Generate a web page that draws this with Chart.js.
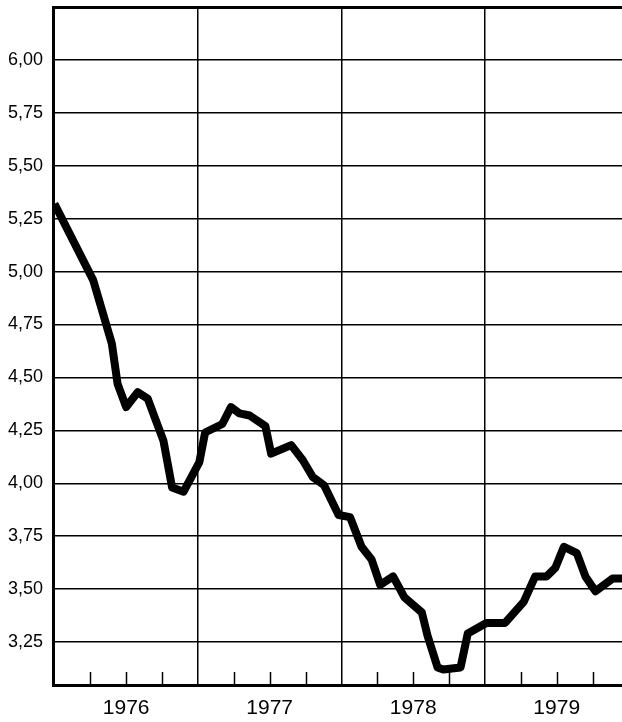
<!DOCTYPE html>
<html>
<head>
<meta charset="utf-8">
<script src="https://cdn.jsdelivr.net/npm/chart.js@4/dist/chart.umd.min.js"></script>
<style>
  body { margin: 0; background: #fff; }
  canvas { display: block; }
</style>
</head>
<body>
<canvas id="rate-chart" width="622" height="722"></canvas>
<script>
// decimal year of each vertex
const dates = [
  1976.00, 1976.27, 1976.40, 1976.44, 1976.50, 1976.58, 1976.65, 1976.76,
  1976.82, 1976.90, 1977.01, 1977.05, 1977.17, 1977.23, 1977.29, 1977.36,
  1977.47, 1977.51, 1977.65, 1977.73, 1977.80, 1977.88, 1977.98, 1978.06,
  1978.14, 1978.21, 1978.27, 1978.36, 1978.44, 1978.56, 1978.60, 1978.67,
  1978.71, 1978.83, 1978.88, 1979.01, 1979.14, 1979.27, 1979.35, 1979.43,
  1979.49, 1979.55, 1979.64, 1979.70, 1979.77, 1979.89, 1979.955
];
const rates = [
  5.32, 4.96, 4.66, 4.47, 4.36, 4.43, 4.40, 4.20,
  3.98, 3.96, 4.10, 4.24, 4.28, 4.36, 4.33, 4.32,
  4.27, 4.14, 4.18, 4.11, 4.03, 3.99, 3.85, 3.84,
  3.70, 3.64, 3.52, 3.56, 3.46, 3.39, 3.28, 3.13,
  3.12, 3.13, 3.29, 3.34, 3.34, 3.44, 3.56, 3.56,
  3.60, 3.70, 3.67, 3.56, 3.49, 3.55, 3.55
];

const yTickValues = [3.25, 3.5, 3.75, 4.0, 4.25, 4.5, 4.75, 5.0, 5.25, 5.5, 5.75, 6.0, 6.25];
const yearLines = [1977, 1978, 1979];
const yearLabels = ['1976', '1977', '1978', '1979'];
const quarterTicks = [
  1976.25, 1976.5, 1976.75, 1977.25, 1977.5, 1977.75,
  1978.25, 1978.5, 1978.75, 1979.25, 1979.5, 1979.75
];

const points = dates.map((d, i) => ({ x: d, y: rates[i] }));

// short tick marks standing up from the bottom axis
const quarterTickPlugin = {
  id: 'quarterTicks',
  beforeDatasetsDraw(chart) {
    const ctx = chart.ctx;
    const xScale = chart.scales.x;
    const bottom = chart.chartArea.bottom;
    ctx.save();
    ctx.strokeStyle = '#000';
    ctx.lineWidth = 1.5;
    quarterTicks.forEach(v => {
      const px = Math.round(xScale.getPixelForValue(v)) + 0.5;
      ctx.beginPath();
      ctx.moveTo(px, bottom);
      ctx.lineTo(px, bottom - 13);
      ctx.stroke();
    });
    ctx.restore();
  }
};

const ctx = document.getElementById('rate-chart').getContext('2d');

new Chart(ctx, {
  type: 'scatter',
  data: {
    datasets: [{
      data: points,
      showLine: true,
      borderColor: '#000',
      borderWidth: 8,
      borderJoinStyle: 'round',
      pointRadius: 0,
      tension: 0
    }]
  },
  options: {
    responsive: false,
    animation: false,
    devicePixelRatio: 1,
    layout: { padding: { top: 7, right: 0, left: 0, bottom: 0 } },
    plugins: {
      legend: { display: false },
      tooltip: { enabled: false }
    },
    scales: {
      x: {
        type: 'linear',
        min: 1975.99,
        max: 1979.955,
        afterBuildTicks: scale => {
          const ticks = [];
          yearLabels.forEach((y, i) => {
            ticks.push({ value: Number(y) + 0.5 });
            if (yearLines[i] !== undefined) ticks.push({ value: yearLines[i] });
          });
          scale.ticks = ticks.sort((a, b) => a.value - b.value);
        },
        afterFit: scale => {
          scale.height = 37;
          scale.paddingLeft = 0;
          scale.paddingRight = 0;
        },
        border: { display: true, color: '#000', width: 3 },
        grid: {
          drawTicks: false,
          lineWidth: 1.5,
          color: c => (c.tick && Number.isInteger(c.tick.value)) ? '#000' : 'rgba(0,0,0,0)'
        },
        ticks: {
          autoSkip: false,
          maxRotation: 0,
          padding: 11,
          color: '#000',
          font: { family: '"Liberation Sans", Arial, sans-serif', size: 21 },
          callback: v => Number.isInteger(v) ? '' : String(Math.floor(v))
        }
      },
      y: {
        min: 3.047,
        max: 6.25,
        afterBuildTicks: scale => {
          scale.ticks = yTickValues.map(v => ({ value: v }));
        },
        afterFit: scale => {
          scale.width = 53;
          scale.paddingTop = 0;
          scale.paddingBottom = 0;
        },
        border: { display: true, color: '#000', width: 3 },
        grid: {
          drawTicks: false,
          color: '#000',
          lineWidth: c => (c.tick && c.tick.value === 6.25) ? 3 : 1.5
        },
        ticks: {
          padding: 10,
          color: '#000',
          font: { family: '"Liberation Sans", Arial, sans-serif', size: 18 },
          callback: v => v === 6.25 ? '' : v.toFixed(2).replace('.', ',')
        }
      }
    }
  },
  plugins: [quarterTickPlugin]
});
</script>
</body>
</html>
